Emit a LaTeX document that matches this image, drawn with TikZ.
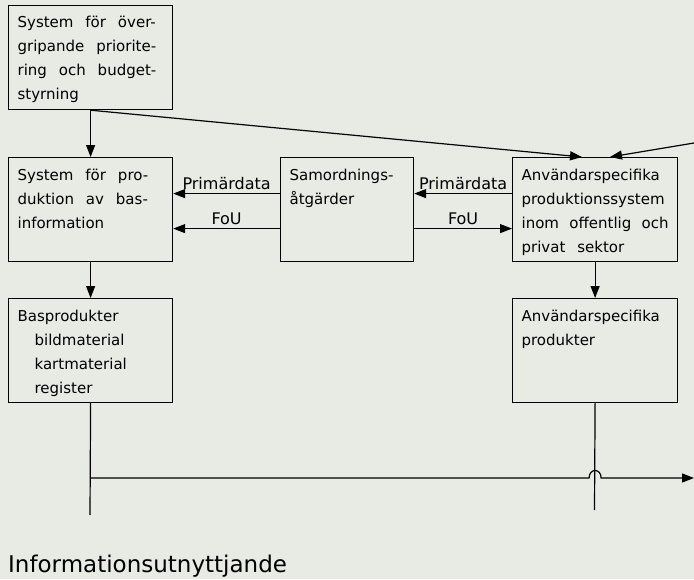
\documentclass[tikz,border=0pt]{standalone}
\usepackage{fontspec}
\setmainfont[WordSpace=2.5]{DejaVu Sans}
\usetikzlibrary{arrows.meta}
\definecolor{papper}{RGB}{232,234,228}
\tikzset{
	ruta/.style = {draw=black, line width=1.2pt, rectangle, anchor=north west,
		inner xsep=9pt, inner ysep=11pt, font=\fontsize{15}{24}\selectfont},% ruta, text upptill
	etikett/.style = {inner sep=3pt, font=\fontsize{16}{18}\selectfont},% text ovanfor pil
	pil/.style = {line width=1.2pt, -{Triangle[length=12pt,width=9pt]}},
	linje/.style = {line width=1.2pt}
}
\newcommand{\rutatext}[2][146pt]{\parbox[t][82pt][t]{#1}{\raggedright #2}}

\begin{document}
\begin{tikzpicture}[x=1pt,y=-1pt]
	\fill[papper] (0,0) rectangle (694,579);
	\useasboundingbox (0,0) rectangle (694,579);
	\node[ruta] (styrning) at (8,5) {\rutatext{System~för~över-\\gripande~priorite-\\ring~och~budget-\\styrning}};
	\node[ruta] (basinfo) at (8,157) {\rutatext{System~för~pro-\\duktion~av~bas-\\information}};
	\node[ruta] (samord) at (280,157) {\rutatext[115pt]{Samordnings-\\åtgärder}};
	\node[ruta] (anvsys) at (512,157) {\rutatext[147pt]{Användarspecifika\\produktionssystem\\inom~offentlig~och\\privat~sektor}};
	\node[ruta] (basprod) at (8,298) {\rutatext{Basprodukter\\\hspace*{17pt}bildmaterial\\\hspace*{17pt}kartmaterial\\\hspace*{17pt}register}};
	\node[ruta] (anvprod) at (512,298) {\rutatext[147pt]{Användarspecifika\\produkter}};
	\node[anchor=base west, inner sep=0pt, font=\fontsize{23}{28}\selectfont] (rubrik) at (8,572) {Informationsutnyttjande};
	% pilar mellan rutorna
	\draw[pil] (styrning) -- (basinfo);
	\draw[pil] (styrning.south) -- ([xshift=70pt]anvsys.north west);
	\coordinate (utifran) at (694,143);
	\draw[pil] (utifran) -- ([xshift=98pt]anvsys.north west);
	\draw[pil] ([yshift=16pt]samord.west) -- node[etikett,above] (pd1) {Primärdata} ([yshift=16pt]basinfo.east);
	\draw[pil] ([yshift=-19pt]samord.west) -- node[etikett,above] (fou1) {FoU} ([yshift=-19pt]basinfo.east);
	\draw[pil] ([yshift=16pt]anvsys.west) -- node[etikett,above] (pd2) {Primärdata} ([yshift=16pt]samord.east);
	\draw[pil] ([yshift=-19pt]samord.east) -- node[etikett,above] (fou2) {FoU} ([yshift=-19pt]anvsys.west);
	\draw[pil] (basinfo) -- (basprod);
	\draw[pil] (anvsys) -- (anvprod);
	% utflode med overhopp
	\coordinate (basslut) at (90,515);
	\coordinate (anvslut) at (594.5,510);
	\coordinate (utflode) at (694,478);
	\coordinate (hopp) at (anvprod.south |- utflode);
	\draw[linje] (basprod.south) -- (basslut);
	\draw[linje] (anvprod.south) -- (anvslut);
	\draw[pil] (basprod.south |- utflode) -- ([xshift=-6pt]hopp)
		.. controls +(0,-10) and +(0,-10) .. ([xshift=6pt]hopp) -- (utflode);
\end{tikzpicture}
\end{document}
